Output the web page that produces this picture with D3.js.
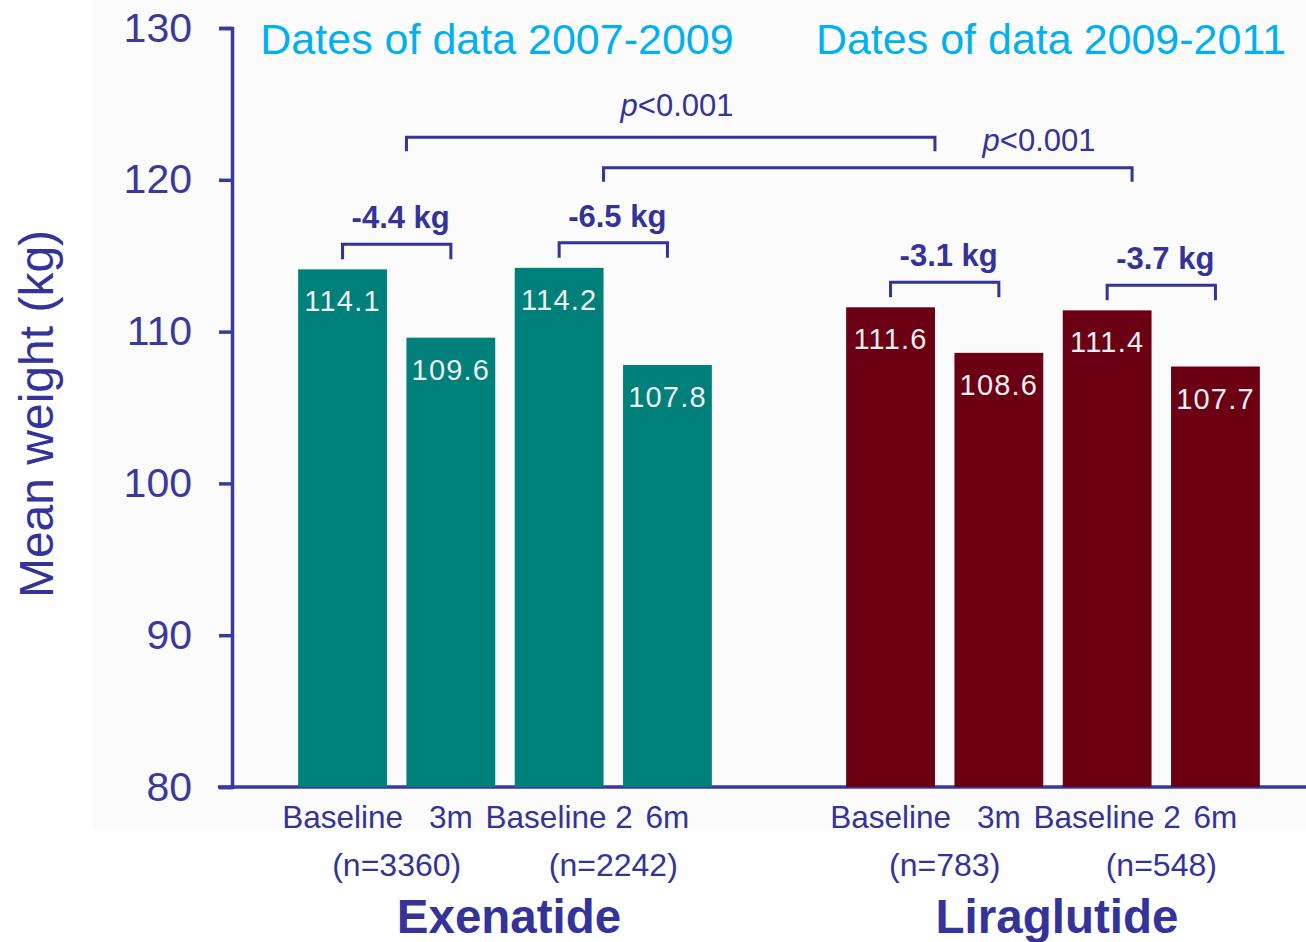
<!DOCTYPE html>
<html>
<head>
<meta charset="utf-8">
<script src="https://cdn.jsdelivr.net/npm/d3@7"></script>
<style>
  html, body { margin: 0; padding: 0; background: #ffffff; }
  svg { display: block; font-family: "Liberation Sans", Arial, sans-serif; }
</style>
</head>
<body>
<svg id="chart" width="1306" height="942"></svg>
<script>
// Mean weight at baseline and follow-up, by drug
const groups = ["Exenatide", "Liraglutide"];
const timepoints = ["Baseline", "3m", "Baseline 2", "6m"];
const exenatideWeights = [114.1, 109.6, 114.2, 107.8];
const liraglutideWeights = [111.6, 108.6, 111.4, 107.7];
const sampleSizes = [["(n=3360)", "(n=2242)"], ["(n=783)", "(n=548)"]];
const weightChanges = [["-4.4 kg", "-6.5 kg"], ["-3.1 kg", "-3.7 kg"]];
const dataPeriods = ["Dates of data 2007-2009", "Dates of data 2009-2011"];
const yTickValues = [80, 90, 100, 110, 120, 130];
const pValueLabels = ["<0.001", "<0.001"];

const navy = "#333399";
const axisColor = "#3a3a9c";
const groupColors = ["#00807b", "#6b0014"];
const cyan = "#00b0f0";

const seriesByGroup = [exenatideWeights, liraglutideWeights];

const svg = d3.select("#chart");

// faint panel behind the plot
svg.append("rect")
  .attr("x", 93).attr("y", 0).attr("width", 1213).attr("height", 830)
  .attr("fill", "#fbfbfb");

const y = d3.scaleLinear().domain([80, 130]).range([787, 28]);

const xGroup = d3.scaleBand().domain(groups).range([231, 1327]).padding(0);
const xTime = d3.scaleBand().domain(timepoints)
  .range([0, xGroup.bandwidth()])
  .paddingInner(0.18).paddingOuter(0.62);

const barLeft = (g, t) => xGroup(g) + xTime(t);
const barCenter = (g, t) => barLeft(g, t) + xTime.bandwidth() / 2;

// y axis
const yAxis = d3.axisLeft(y).tickValues(yTickValues)
  .tickSize(13).tickSizeOuter(13).tickPadding(27)
  .tickFormat(d3.format("d"));
const yG = svg.append("g").attr("transform", "translate(232,0)").call(yAxis);
yG.select(".domain").attr("stroke", axisColor).attr("stroke-width", 3.5);
yG.selectAll(".tick line").attr("stroke", axisColor).attr("stroke-width", 3.5);
yG.selectAll(".tick text")
  .attr("fill", axisColor)
  .attr("font-size", 41)
  .attr("font-family", "Liberation Sans, Arial, sans-serif");

// x axis baseline
svg.append("line")
  .attr("x1", 218).attr("x2", 1306)
  .attr("y1", y(80)).attr("y2", y(80))
  .attr("stroke", axisColor).attr("stroke-width", 3.5);

// y axis title
svg.append("text")
  .attr("transform", "rotate(-90)")
  .attr("x", -414).attr("y", 53)
  .attr("text-anchor", "middle")
  .attr("font-size", 48)
  .attr("fill", navy)
  .text("Mean weight (kg)");

// bars and value labels
groups.forEach((g, gi) => {
  const values = seriesByGroup[gi];
  const gSel = svg.append("g");
  gSel.selectAll("rect")
    .data(timepoints.map((t, i) => ({ t, v: values[i] })))
    .join("rect")
    .attr("x", d => barLeft(g, d.t))
    .attr("y", d => y(d.v))
    .attr("width", xTime.bandwidth())
    .attr("height", d => y(80) - y(d.v))
    .attr("fill", groupColors[gi]);

  gSel.selectAll("text.val")
    .data(timepoints.map((t, i) => ({ t, v: values[i] })))
    .join("text")
    .attr("class", "val")
    .attr("x", d => barCenter(g, d.t))
    .attr("y", d => y(d.v) + 42)
    .attr("text-anchor", "middle")
    .attr("font-size", 29)
    .attr("letter-spacing", 1.2)
    .attr("fill", "#eeeeee")
    .text(d => d.v.toFixed(1));

  // timepoint labels
  gSel.selectAll("text.tp")
    .data(timepoints)
    .join("text")
    .attr("class", "tp")
    .attr("x", t => barCenter(g, t))
    .attr("y", 828)
    .attr("text-anchor", "middle")
    .attr("font-size", 31.5)
    .attr("fill", navy)
    .text(t => t);

  // sample sizes and within-group change brackets
  [[0, 1], [2, 3]].forEach((pair, pi) => {
    const [a, b] = pair;
    const xa = barCenter(g, timepoints[a]);
    const xb = barCenter(g, timepoints[b]);
    const mid = (xa + xb) / 2;

    gSel.append("text")
      .attr("x", mid).attr("y", 876)
      .attr("text-anchor", "middle")
      .attr("font-size", 32)
      .attr("fill", navy)
      .text(sampleSizes[gi][pi]);

    const top = y(Math.max(values[a], values[b])) - 25;
    gSel.append("path")
      .attr("d", `M${xa},${top + 15}V${top}H${xb}V${top + 15}`)
      .attr("fill", "none")
      .attr("stroke", navy)
      .attr("stroke-width", 3);

    gSel.append("text")
      .attr("x", mid + 4).attr("y", top - 16)
      .attr("text-anchor", "middle")
      .attr("font-size", 31)
      .attr("font-weight", "bold")
      .attr("fill", navy)
      .text(weightChanges[gi][pi]);
  });

  // drug name
  gSel.append("text")
    .attr("x", xGroup(g) + xGroup.bandwidth() / 2 + 4)
    .attr("y", 933)
    .attr("text-anchor", "middle")
    .attr("font-size", 47.5)
    .attr("font-weight", "bold")
    .attr("fill", navy)
    .text(g);

  // data period heading
  svg.append("text")
    .attr("x", xGroup(g) + xGroup.bandwidth() / 2 - (gi === 0 ? 8 : 2))
    .attr("y", 54)
    .attr("text-anchor", "middle")
    .attr("font-size", 43)
    .attr("fill", cyan)
    .text(dataPeriods[gi]);
});

// between-drug comparison brackets
const bw = xTime.bandwidth();
const spanA0 = barLeft("Exenatide", "3m");
const spanA1 = barLeft("Liraglutide", "Baseline") + bw;
const spanWidth = spanA1 - spanA0;
const spanB0 = barLeft("Exenatide", "Baseline 2") + bw;
const comparisons = [
  { x0: spanA0, x1: spanA1, level: 122.8, labelAt: 0.512, labelGap: 21 },
  { x0: spanB0, x1: spanB0 + spanWidth, level: 120.8, labelAt: 0.824, labelGap: 17 }
];
comparisons.forEach((c, i) => {
  const top = y(c.level);
  svg.append("path")
    .attr("d", `M${c.x0},${top + 14}V${top}H${c.x1}V${top + 14}`)
    .attr("fill", "none")
    .attr("stroke", navy)
    .attr("stroke-width", 3);
  const t = svg.append("text")
    .attr("x", c.x0 + (c.x1 - c.x0) * c.labelAt)
    .attr("y", top - c.labelGap)
    .attr("text-anchor", "middle")
    .attr("font-size", 31)
    .attr("fill", navy);
  t.append("tspan").attr("font-style", "italic").text("p");
  t.append("tspan").text(pValueLabels[i]);
});
</script>
</body>
</html>
